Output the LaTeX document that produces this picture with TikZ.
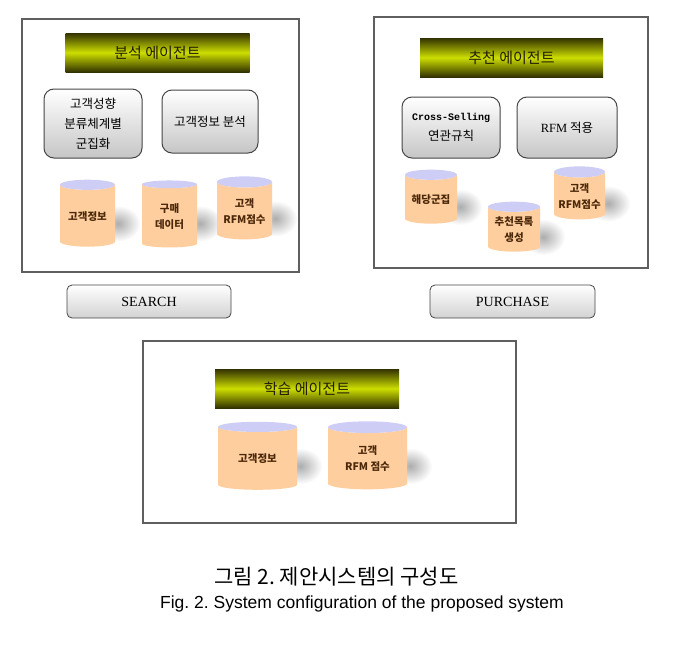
\documentclass[tikz,border=0pt]{standalone}
\usepackage{fontspec}
\setmainfont{Liberation Serif}
\setsansfont{Liberation Sans}
\setmonofont{Liberation Mono}
\newfontfamily\kr{Noto Sans CJK KR}
\usetikzlibrary{
  positioning,
  shapes.geometric,
  backgrounds
}
\tikzset{
  every node/.style={inner sep=2pt}
}
\definecolor{frameGray}{RGB}{95, 95, 95}
\definecolor{agentDark}{RGB}{50, 50, 0}
\definecolor{agentLight}{RGB}{205, 222, 0}
\definecolor{agentText}{RGB}{35, 30, 0}
\definecolor{dbPeach}{RGB}{255, 206, 158}
\definecolor{dbTop}{RGB}{205, 205, 245}
\definecolor{dbText}{RGB}{75, 40, 10}
\definecolor{taskBorder}{RGB}{70, 70, 70}

\begin{document}
\frenchspacing
\begin{tikzpicture}[
    x=1pt, y=-1pt,
    frame/.style={draw=frameGray, line width=1.2pt},
    agent/.style={rectangle, top color=agentDark, bottom color=agentDark, middle color=agentLight, minimum width=184pt, minimum height=39pt, text=agentText, font=\kr\fontsize{15}{17}\selectfont},
    taskbox/.style={rectangle, rounded corners=10pt, draw=taskBorder, line width=1pt, top color=white, bottom color=gray!45, align=center, minimum height=62pt, font=\kr\fontsize{12.5}{20}\selectfont},
    dbcyl/.style={cylinder, shape border rotate=90, aspect=0.25, cylinder uses custom fill, cylinder body fill=dbPeach, cylinder end fill=dbTop, align=center, text=dbText, inner sep=1pt, font=\kr\bfseries\fontsize{10.5}{16}\selectfont},
    dbshade/.style={ellipse, inner color=gray!65, outer color=white, minimum width=44pt, minimum height=36pt},
    button/.style={rectangle, rounded corners=5pt, draw=taskBorder, line width=0.8pt, top color=white, bottom color=gray!35, minimum width=164pt, minimum height=33pt, font=\fontsize{14}{16}\selectfont}
]

    \useasboundingbox (0,0) rectangle (684,648);

    % three agent frames
    \draw[frame] (22,19) rectangle (299,272);
    \draw[frame] (374,17) rectangle (648,268);
    \draw[frame] (143,341) rectangle (516,523);

    % analysis agent
    \node[agent] (anaAgent) at (157.5,52.5) {분석 에이전트};
    \node[taskbox, minimum width=98pt, minimum height=69pt] (anaCluster) at (93,123.5) {고객성향\\분류체계별\\군집화};
    \node[taskbox, minimum width=96pt, minimum height=63pt] (anaInfo) at (210,121.5) {고객정보 분석};
    \node[dbcyl, minimum width=55pt, minimum height=67pt] (anaDbA) at (87.5,216.5) {고객정보};
    \node[dbcyl, minimum width=55pt, minimum height=67pt] (anaDbB) at (169.5,216.5) {구매\\데이터};
    \node[dbcyl, minimum width=55pt, minimum height=63pt] (anaDbC) at (244.5,211.5) {고객\\RFM점수};

    % recommendation agent
    \node[agent, minimum width=183pt] (recAgent) at (511.5,57.5) {추천 에이전트};
    \node[taskbox, minimum width=98pt, minimum height=61pt] (recRule) at (451,127.5) {{\ttfamily\bfseries\fontsize{10}{20}\selectfont Cross-Selling}\\연관규칙};
    \node[taskbox, minimum width=100pt, minimum height=61pt] (recRfm) at (567,127.5) {{\rmfamily RFM} 적용};
    \node[dbcyl, minimum width=52pt, minimum height=54pt] (recDbA) at (431,200) {해당군집};
    \node[dbcyl, minimum width=52pt, minimum height=50pt] (recDbB) at (514,230) {추천목록\\생성};
    \node[dbcyl, minimum width=51pt, minimum height=53pt] (recDbC) at (579.5,196.5) {고객\\RFM점수};

    % learning agent
    \node[agent] (lrnAgent) at (307,388.5) {학습 에이전트};
    \node[dbcyl, minimum width=79pt, minimum height=68pt] (lrnDbA) at (257.5,459) {고객정보};
    \node[dbcyl, minimum width=79pt, minimum height=68pt] (lrnDbB) at (367.5,459) {고객\\RFM 점수};

    \node[button] (search) at (149,301.5) {SEARCH};
    \node[button, minimum width=165pt] (purchase) at (512.5,301.5) {PURCHASE};

    \begin{scope}[on background layer]
        \fill[white] (0,0) rectangle (684,648);
        \foreach \db in {anaDbA, anaDbB, anaDbC, recDbA, recDbB, recDbC, lrnDbA, lrnDbB}
            \node[dbshade, xshift=3pt, yshift=-7pt] (\db-shade) at (\db.east) {};
    \end{scope}

    \node (capKr) at (336.5,577) {\kr\fontsize{21}{24}\selectfont 그림 2. 제안시스템의 구성도};
    \node (capEn) at (362,604) {\sffamily\fontsize{17.5}{20}\selectfont Fig. 2. System configuration of the proposed system};

\end{tikzpicture}
\end{document}
